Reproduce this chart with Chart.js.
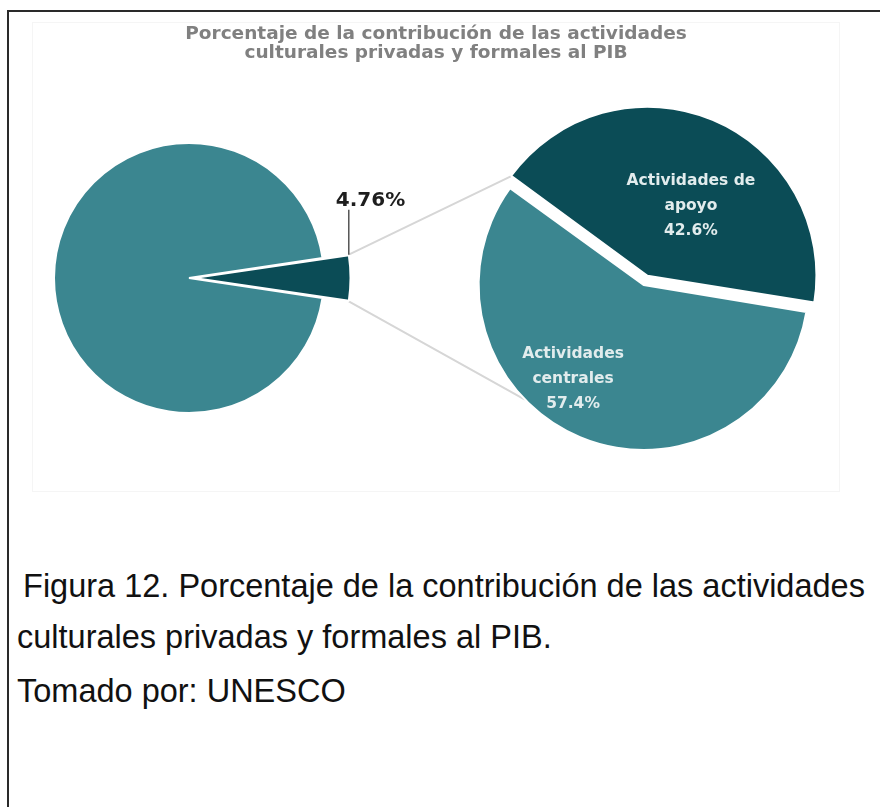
<!DOCTYPE html>
<html lang="es">
<head>
<meta charset="utf-8">
<script src="https://cdn.jsdelivr.net/npm/chart.js@4.4.1/dist/chart.umd.min.js"></script>
<style>
  body { margin: 0; background: #fff; }
  .frame { position: absolute; left: 7px; top: 10px; width: 880px; height: 800px;
           border-top: 2px solid #2a2a2a; border-left: 2px solid #2a2a2a; }
  .figure { position: absolute; left: 32px; top: 22px; width: 806px; height: 468px;
            border: 1px solid #f5f5f5; }
  #mainChart { position: absolute; left: 0; top: 0; }
  #detailChart { position: absolute; left: 421px; top: 71px; }
  .caption { position: absolute; left: 17px; font-family: "Liberation Sans", Arial, sans-serif;
             font-size: 32.5px; line-height: 38px; color: #111; white-space: pre; }
</style>
</head>
<body>
<div class="frame"></div>
<div class="figure">
  <canvas id="mainChart" width="806" height="468"></canvas>
  <canvas id="detailChart" width="380" height="380"></canvas>
</div>
<div class="caption" style="top: 567px; left: 14px;"> Figura 12. Porcentaje de la contribución de las actividades</div>
<div class="caption" style="top: 618px;">culturales privadas y formales al PIB.</div>
<div class="caption" style="top: 672px;">Tomado por: UNESCO</div>

<script>
const titleLines = ['Porcentaje de la contribución de las actividades', 'culturales privadas y formales al PIB'];

// share of the cultural activities in GDP
const mainLabels = ['Actividades culturales', 'Resto del PIB'];
const mainShare = [4.76, 95.24];

// breakdown of the cultural share
const detailLabels = [['Actividades de', 'apoyo'], ['Actividades', 'centrales']];
const detailShare = [42.6, 57.4];

const DARK = '#0b4c56';
const LIGHT = '#3b8690';

// where the real arc edge ends up, taking the offset shift into account
function arcPoint(arc, angle) {
  const mid = (arc.startAngle + arc.endAngle) / 2;
  const shift = (arc.options.offset || 0) / 4;
  const fix = 1 - Math.sin(Math.min(Math.PI, arc.circumference));
  const r = arc.outerRadius + shift * fix;
  return {
    x: arc.x + Math.cos(mid) * shift + Math.cos(angle) * r,
    y: arc.y + Math.sin(mid) * shift + Math.sin(angle) * r
  };
}

// labels inside the slices of the detail pie
const sliceText = {
  id: 'sliceText',
  afterDatasetsDraw(chart) {
    const ctx = chart.ctx;
    const arcs = chart.getDatasetMeta(0).data;
    const place = [{ frac: 0.50, turn: 9.3 }, { frac: 0.717, turn: 14.2 }];
    ctx.save();
    ctx.fillStyle = '#e2eced';
    ctx.font = 'bold 15.5px "DejaVu Sans"';
    ctx.textAlign = 'center';
    ctx.textBaseline = 'middle';
    arcs.forEach((arc, i) => {
      const mid = (arc.startAngle + arc.endAngle) / 2;
      const shift = (arc.options.offset || 0) / 4;
      const a = mid + place[i].turn * Math.PI / 180;
      const cx = arc.x + Math.cos(mid) * shift + Math.cos(a) * arc.outerRadius * place[i].frac;
      const cy = arc.y + Math.sin(mid) * shift + Math.sin(a) * arc.outerRadius * place[i].frac;
      const lines = detailLabels[i].concat(detailShare[i].toFixed(1) + '%');
      lines.forEach((t, k) => ctx.fillText(t, cx, cy + (k - 1) * 25));
    });
    ctx.restore();
  }
};

const detailChart = new Chart(document.getElementById('detailChart'), {
  type: 'pie',
  data: {
    labels: detailLabels,
    datasets: [{
      data: detailShare,
      backgroundColor: [DARK, LIGHT],
      borderColor: '#ffffff',
      borderWidth: 2,
      offset: [36, 4]
    }]
  },
  options: {
    responsive: false,
    animation: false,
    events: [],
    rotation: 306,
    radius: 164,
    plugins: { legend: { display: false }, tooltip: { enabled: false } }
  },
  plugins: [sliceText]
});

// the small slice sticks out past the rest of the pie
const longSlice = {
  id: 'longSlice',
  afterDatasetsUpdate(chart) {
    chart.getDatasetMeta(0).data[0].outerRadius += 18;
  }
};

const figureTitle = {
  id: 'figureTitle',
  afterDraw(chart) {
    const ctx = chart.ctx;
    ctx.save();
    ctx.fillStyle = '#808080';
    ctx.font = 'bold 18.5px "DejaVu Sans"';
    ctx.textAlign = 'center';
    ctx.textBaseline = 'middle';
    titleLines.forEach((t, k) => ctx.fillText(t, chart.width / 2, 11 + k * 19));
    ctx.restore();
  }
};

// guide lines from the small slice to the detail pie, plus its value
const connectors = {
  id: 'connectors',
  beforeDatasetsDraw(chart) {
    const ctx = chart.ctx;
    const slice = chart.getDatasetMeta(0).data[0];
    const other = detailChart.getDatasetMeta(0).data;
    const dx = detailChart.canvas.offsetLeft - chart.canvas.offsetLeft;
    const dy = detailChart.canvas.offsetTop - chart.canvas.offsetTop;
    const top = arcPoint(slice, slice.startAngle);
    const bottom = arcPoint(slice, slice.endAngle);
    const toTop = arcPoint(other[0], other[0].startAngle);
    const toBottom = arcPoint(other[1], 136 * Math.PI / 180);
    ctx.save();
    ctx.strokeStyle = '#d6d6d6';
    ctx.lineWidth = 2;
    ctx.beginPath();
    ctx.moveTo(top.x, top.y);
    ctx.lineTo(toTop.x + dx, toTop.y + dy);
    ctx.moveTo(bottom.x, bottom.y);
    ctx.lineTo(toBottom.x + dx, toBottom.y + dy);
    ctx.stroke();
    ctx.restore();
  },
  afterDatasetsDraw(chart) {
    const ctx = chart.ctx;
    const slice = chart.getDatasetMeta(0).data[0];
    const top = arcPoint(slice, slice.startAngle);
    ctx.save();
    ctx.strokeStyle = '#555555';
    ctx.lineWidth = 1.5;
    ctx.beginPath();
    ctx.moveTo(top.x, top.y);
    ctx.lineTo(top.x, top.y - 45);
    ctx.stroke();
    ctx.fillStyle = '#1e1e1e';
    ctx.font = 'bold 20px "DejaVu Sans"';
    ctx.textAlign = 'left';
    ctx.textBaseline = 'middle';
    ctx.fillText(mainShare[0].toFixed(2) + '%', top.x - 13, top.y - 54);
    ctx.restore();
  }
};

new Chart(document.getElementById('mainChart'), {
  type: 'pie',
  data: {
    labels: mainLabels,
    datasets: [{
      data: mainShare,
      backgroundColor: [DARK, LIGHT],
      borderColor: '#ffffff',
      borderWidth: 2,
      offset: [20, 0]
    }]
  },
  options: {
    responsive: false,
    animation: false,
    events: [],
    rotation: 90 - mainShare[0] * 3.6 / 2,
    radius: 135,
    layout: { padding: { left: 0, right: 494, top: 42, bottom: 0 } },
    plugins: { legend: { display: false }, tooltip: { enabled: false } }
  },
  plugins: [longSlice, figureTitle, connectors]
});
</script>
</body>
</html>
